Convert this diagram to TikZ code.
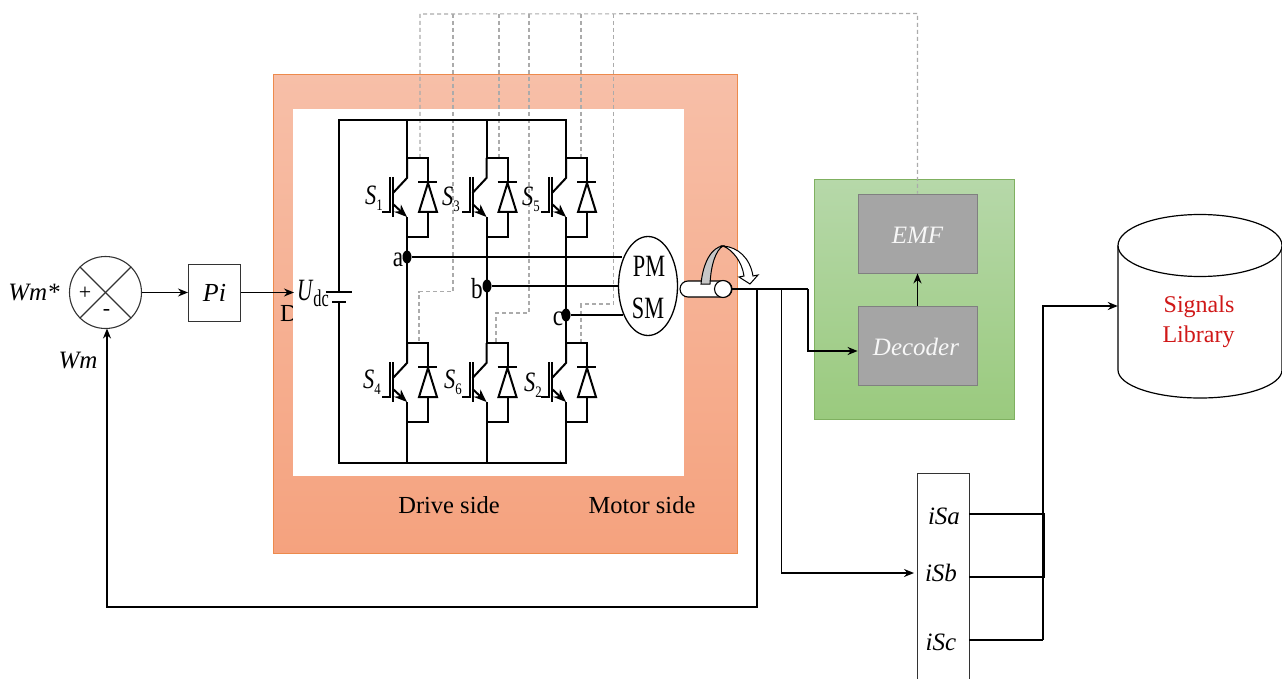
\documentclass[tikz,border=0pt]{standalone}
\usepackage{fontspec}
\usepackage{graphicx}
\setmainfont{Liberation Serif}
\usetikzlibrary{arrows.meta,calc,shapes.geometric}
\definecolor{orA}{HTML}{F7BFA8}
\definecolor{orB}{HTML}{F5A27E}
\definecolor{orL}{HTML}{ED8A4C}
\definecolor{grA}{HTML}{B6D8A9}
\definecolor{grB}{HTML}{9ACA7E}
\definecolor{grL}{HTML}{7FB060}
\definecolor{blockgrey}{HTML}{A5A5A5}
\definecolor{dashgrey}{HTML}{ABABAB}
\definecolor{txtgrey}{HTML}{F7F7F7}
\definecolor{libred}{HTML}{D01818}
\newcommand\fsz[1]{\fontsize{#1}{#1}\selectfont}
\newcommand\swlab[1]{\scalebox{.8}[1]{\fsz{28}\textit{S}\raisebox{-6pt}{\fsz{16}#1}}}
\tikzset{
  wire/.style={black,line width=2pt},
  sig/.style={black,line width=1.8pt,-{Stealth[length=10pt,width=8pt]}},
  sigline/.style={black,line width=1.8pt},
  ctrl/.style={dashgrey,line width=1.1pt,dash pattern=on 4pt off 3pt},
  block/.style={draw=black!80,line width=1pt,fill=white,inner sep=0pt},
  greyblock/.style={draw=black!50,line width=.8pt,fill=blockgrey,minimum width=119pt,minimum height=79pt,inner sep=0pt},
  lab/.style={inner sep=0pt,font=\fsz{25}\itshape},
  plain/.style={inner sep=0pt,font=\fsz{24.5}},
  phasedot/.style={fill=black,ellipse,inner sep=0pt,minimum width=9pt,minimum height=13pt},
  igbt/.pic={
    \coordinate (-top) at (0,0);
    \coordinate (-bot) at (0,79);
    \draw[wire] (0,0) -- (21,0) -- (21,24);
    \draw[wire] (21,54) -- (21,79) -- (0,79) -- (0,59);
    \draw[wire] (0,0) -- (0,20) -- (-14,35);
    \draw[wire] (-17,19) -- (-17,54) -- (-25,54);
    \draw[wire] (-14,19) -- (-14,59);
    \draw[wire,-{Stealth[length=13pt,width=10pt]}] (-14,46) -- (0,59);
    \draw[wire] (11,24) -- (30,24);
    \draw[wire,line join=miter] (21,25) -- (12,54) -- (30,54) -- cycle;
  }
}
\begin{document}
\begin{tikzpicture}[x=1pt,y=-1pt]
\useasboundingbox (0,0) rectangle (1282,679);
\fill[white] (0,0) rectangle (1282,679);

% drive panel
\path[top color=orA,bottom color=orB,draw=orL,line width=1pt] (273,75) rectangle (737,553);
\node[plain] (dlab) at (289,314) {D};
\fill[white] (293,109) rectangle (684,476);

% green panel
\node[draw=grL,line width=1pt,top color=grA,bottom color=grB,minimum width=200pt,minimum height=239pt,inner sep=0pt] (gbox) at (914,299.5) {};
\node[greyblock] (emf) at (917.5,233.5) {};
\node[greyblock] (dec) at (917.5,345.5) {};
\node[inner sep=0pt,font=\fsz{25}\itshape,text=txtgrey] (emft) at (917.5,235) {EMF};
\node[inner sep=0pt,font=\fsz{25}\itshape,text=txtgrey] (dect) at (916,347) {Decoder};
\draw[sig] (dec.north) -- (emf.south);

% control dashes (under the power wiring)
\coordinate (dtop) at (917.5,13.5);
\draw[ctrl] (420,158) -- (420,14) -- (dtop) -- (emf.north);
\draw[ctrl] (453,14) -- (453,291.5) -- (419,291.5) -- (419,343);
\draw[ctrl] (499,14) -- (499,158);
\draw[ctrl] (529,14) -- (529,313) -- (496,313) -- (496,343);
\draw[ctrl] (581,14) -- (581,158);
\draw[ctrl] (613.5,14) -- (613.5,304) -- (581,304) -- (581,343);

% bus coordinates
\coordinate (tl) at (339,120);
\coordinate (bl) at (339,463);
\coordinate (t1) at (407,120);
\coordinate (t2) at (486.5,120);
\coordinate (t3) at (566,120);
\coordinate (b1) at (407,463);
\coordinate (b2) at (486.5,463);
\coordinate (b3) at (566,463);
\coordinate (capa) at (339,291.5);
\coordinate (capb) at (339,301.5);

% switches
\pic (s1) at (407,158) {igbt};
\pic (s3) at (486.5,158) {igbt};
\pic (s5) at (566,158) {igbt};
\pic (s4) at (407,343) {igbt};
\pic (s6) at (486.5,343) {igbt};
\pic (s2) at (566,343) {igbt};

% buses and legs
\draw[wire] (capa) -- (tl) -- (t3) -- (s5-top);
\draw[wire] (capb) -- (bl) -- (b3) -- (s2-bot);
\draw[wire] (t1) -- (s1-top);
\draw[wire] (t2) -- (s3-top);
\draw[wire] (s1-bot) -- (s4-top);
\draw[wire] (s3-bot) -- (s6-top);
\draw[wire] (s5-bot) -- (s2-top);
\draw[wire] (s4-bot) -- (b1);
\draw[wire] (s6-bot) -- (b2);
% capacitor
\draw[wire] ($(capa)+(-13,0)$) -- ($(capa)+(13,0)$);
\draw[wire] ($(capb)+(-7,0)$) -- ($(capb)+(7,0)$);
\node[inner sep=0pt] (udc) at (313,293) {\scalebox{.68}[1]{\fsz{31}\textit{U}\raisebox{-6pt}{\fsz{24}dc}}};

% phase dots
\node[phasedot] (da) at (407,257) {};
\node[phasedot] (db) at (487,286) {};
\node[phasedot] (dc) at (566,315) {};
\node[inner sep=0pt,font=\fsz{29}] (la) at (398,260) {\scalebox{.8}[1]{a}};
\node[inner sep=0pt,font=\fsz{29}] (lb) at (477,289) {\scalebox{.8}[1]{b}};
\node[inner sep=0pt,font=\fsz{29}] (lc) at (558,319) {\scalebox{.8}[1]{c}};

% switch labels
\node[inner sep=0pt] (ls1) at (374,198) {\swlab{1}};
\node[inner sep=0pt] (ls3) at (451,199) {\swlab{3}};
\node[inner sep=0pt] (ls5) at (531,199) {\swlab{5}};
\node[inner sep=0pt] (ls4) at (372,382) {\swlab{4}};
\node[inner sep=0pt] (ls6) at (453,382) {\swlab{6}};
\node[inner sep=0pt] (ls2) at (533,385) {\swlab{2}};

% motor
\draw[wire,line width=2.4pt] (da) -- (622,257);
\draw[wire,line width=2.4pt] (db) -- (619,286);
\draw[wire,line width=2.4pt] (dc) -- (623,315);
\draw[black,line width=1.3pt,fill=white] (648,286) ellipse [x radius=29.5,y radius=49.5];
\node[inner sep=0pt] (pm) at (649,266) {\scalebox{.72}[1]{\fsz{31}PM}};
\node[inner sep=0pt] (sm) at (648,308) {\scalebox{.72}[1]{\fsz{31}SM}};

% shaft
\draw[black,line width=1.1pt,fill=white,rounded corners=8pt] (680,281) rectangle (732,297);
\node[circle,draw=black,line width=1.1pt,fill=white,minimum size=17pt,inner sep=0pt] (cap) at (723,289) {};
\draw[black,line width=1pt,fill=black!22] (701,284) .. controls (703,262) and (712,247) .. (723,246) .. controls (716,250) and (711,264) .. (710,284) -- cycle;
\draw[black,line width=1pt,fill=white,line join=miter] (723,246) .. controls (738,247) and (750,258) .. (753,276) -- (758,275) -- (750,284) -- (739,277) -- (744,276) .. controls (742,262) and (733,250) .. (723,246) -- cycle;

% controller
\node[circle,draw=black!80,line width=1.1pt,fill=white,minimum size=72pt,inner sep=0pt] (sum) at (105.5,292.5) {};
\draw[black!80,line width=1.1pt] (sum.45) -- (sum.225);
\draw[black!80,line width=1.1pt] (sum.135) -- (sum.315);
\node[inner sep=0pt,font=\fsz{22}] (plus) at (85,293) {+};
\node[inner sep=0pt,font=\fsz{22}] (minus) at (106.5,312) {-};
\node[block,minimum width=52pt,minimum height=57pt,font=\fsz{26}\itshape] (pi) at (214.5,292.5) {Pi};
\node[lab] (wms) at (34,293) {Wm*};
\node[lab] (wm) at (78,361) {Wm};
\coordinate (drv) at (294,292.5);
\coordinate (sumin) at (107,328.5);
\draw[sig] (sum.east) -- (sum.east -| pi.west);
\draw[sig] (pi.east) -- (drv);

% feedback and outputs
\coordinate (o1) at (757,289);
\coordinate (o2) at (781.5,289);
\coordinate (o3) at (808,289);
\node[block,draw=black!80,minimum width=52pt,minimum height=210pt] (is) at (943,578) {};
\node[lab] (isa) at (944,516) {iSa};
\node[lab] (isb) at (941,573) {iSb};
\node[lab] (isc) at (941,642) {iSc};
\draw[sigline] (cap.east) -- (o3);
\draw[sig] (o1) -- (757,607) -- (107,607) -- (sumin);
\draw[sig] (o2) -- (781.5,573) -- (914,573);
\draw[sig] (o3) -- (808,351) -- (dec.west |- 0,351);

% library
\node[minimum width=164pt,minimum height=184pt,inner sep=0pt] (lib) at (1200,306) {};
\draw[black,line width=1.2pt,fill=white] (1118,245.5) -- (1118,370) arc[start angle=180,end angle=360,x radius=82,y radius=-28] -- (1282,245.5);
\draw[black,line width=1.2pt,fill=white] (1200,245.5) ellipse [x radius=82,y radius=31];
\node[inner sep=0pt,text=libred,font=\fsz{24}] (libs) at (1199,307) {Signals};
\node[inner sep=0pt,text=libred,font=\fsz{24}] (libl) at (1198.5,337) {Library};

% current bus
\coordinate (ja) at (1044.5,514);
\coordinate (jb) at (1044.5,577);
\coordinate (jc) at (1043,640);
\draw[sigline] (969,514) -- (ja) -- (jb);
\draw[sigline] (969,577) -- (jb);
\draw[sigline] (969,640) -- (jc);
\draw[sig] (jc) -- (1043,306) -- (lib.west);

% text
\node[plain] (drive) at (449,505) {Drive side};
\node[plain] (motor) at (642,505) {Motor side};
\end{tikzpicture}
\end{document}
